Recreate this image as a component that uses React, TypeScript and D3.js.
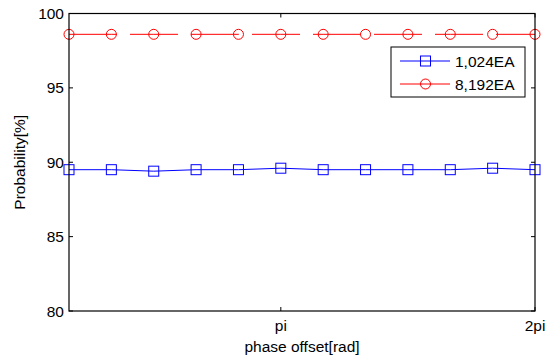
import React, { useEffect, useRef } from 'react';
import * as d3 from 'd3';

// phase offsets in units of pi (k * pi/6, k = 1..12)
const phase = [1, 2, 3, 4, 5, 6, 7, 8, 9, 10, 11, 12].map(k => (k * Math.PI) / 6);
const prob1024 = [89.5, 89.5, 89.4, 89.5, 89.5, 89.6, 89.5, 89.5, 89.5, 89.5, 89.6, 89.5];
const prob8192 = [98.6, 98.6, 98.6, 98.6, 98.6, 98.6, 98.6, 98.6, 98.6, 98.6, 98.6, 98.6];
const seriesNames = ['1,024EA', '8,192EA'];
const xTicks = [Math.PI, 2 * Math.PI];
const xTickLabels = ['pi', '2pi'];
const yTicks = [80, 85, 90, 95, 100];

const App = () => {
  const ref = useRef<SVGSVGElement>(null);

  useEffect(() => {
    const width = 552;
    const height = 358;
    const m = { left: 69, right: 535, top: 13.5, bottom: 311 };
    const font = 'Arial, "Liberation Sans", sans-serif';
    const fs = 15.5;

    const svg = d3.select(ref.current);
    svg.selectAll('*').remove();
    svg.attr('width', width).attr('height', height);

    svg.append('rect').attr('width', width).attr('height', height).attr('fill', '#fff');

    const x = d3.scaleLinear().domain([Math.PI / 6, 2 * Math.PI]).range([m.left, m.right]);
    const y = d3.scaleLinear().domain([80, 100]).range([m.bottom, m.top]);

    // ticks (inward, both sides)
    const tl = 4;
    yTicks.forEach(v => {
      svg.append('line').attr('x1', m.left).attr('x2', m.left + tl)
        .attr('y1', y(v)).attr('y2', y(v)).attr('stroke', '#000');
      svg.append('line').attr('x1', m.right).attr('x2', m.right - tl)
        .attr('y1', y(v)).attr('y2', y(v)).attr('stroke', '#000');
      svg.append('text').attr('x', m.left - 5).attr('y', y(v) + 5.5)
        .attr('text-anchor', 'end').attr('font-family', font).attr('font-size', fs)
        .text(v);
    });
    xTicks.forEach((v, i) => {
      svg.append('line').attr('x1', x(v)).attr('x2', x(v))
        .attr('y1', m.bottom).attr('y2', m.bottom - tl).attr('stroke', '#000');
      svg.append('line').attr('x1', x(v)).attr('x2', x(v))
        .attr('y1', m.top).attr('y2', m.top + tl).attr('stroke', '#000');
      svg.append('text').attr('x', x(v)).attr('y', m.bottom + 20)
        .attr('text-anchor', 'middle').attr('font-family', font).attr('font-size', fs)
        .text(xTickLabels[i]);
    });

    // axis labels
    svg.append('text').attr('x', (m.left + m.right) / 2).attr('y', 352)
      .attr('text-anchor', 'middle').attr('font-family', font).attr('font-size', fs)
      .text('phase offset[rad]');
    svg.append('text')
      .attr('transform', `translate(25,${(m.top + m.bottom) / 2}) rotate(-90)`)
      .attr('text-anchor', 'middle').attr('font-family', font).attr('font-size', fs)
      .text('Probability[%]');

    const line = d3.line<number>().x((_, i) => x(phase[i])).y(d => y(d));

    // 1,024EA - blue squares
    svg.append('path').datum(prob1024).attr('d', line)
      .attr('fill', 'none').attr('stroke', '#0000ff').attr('stroke-width', 1);
    svg.selectAll('.sq').data(prob1024).enter().append('rect')
      .attr('x', (_, i) => x(phase[i]) - 5).attr('y', d => y(d) - 5)
      .attr('width', 10).attr('height', 10)
      .attr('fill', 'none').attr('stroke', '#0000ff').attr('stroke-width', 1);

    // 8,192EA - red circles
    svg.append('path').datum(prob8192).attr('d', line)
      .attr('fill', 'none').attr('stroke', '#ff0000').attr('stroke-width', 1)
      .attr('stroke-dasharray', '48,13');
    svg.selectAll('.ci').data(prob8192).enter().append('circle')
      .attr('cx', (_, i) => x(phase[i])).attr('cy', d => y(d)).attr('r', 5)
      .attr('fill', 'none').attr('stroke', '#ff0000').attr('stroke-width', 1);

    // frame
    svg.append('rect').attr('x', m.left).attr('y', m.top)
      .attr('width', m.right - m.left).attr('height', m.bottom - m.top)
      .attr('fill', 'none').attr('stroke', '#000').attr('stroke-width', 1.2);

    // legend
    const lg = svg.append('g');
    lg.append('rect').attr('x', 391).attr('y', 47).attr('width', 134).attr('height', 50)
      .attr('fill', '#fff').attr('stroke', '#000').attr('stroke-width', 1);
    const colors = ['#0000ff', '#ff0000'];
    seriesNames.forEach((name, i) => {
      const yy = 61 + i * 23;
      lg.append('line').attr('x1', 400).attr('x2', 450).attr('y1', yy).attr('y2', yy)
        .attr('stroke', colors[i]);
      if (i === 0) {
        lg.append('rect').attr('x', 420.5).attr('y', yy - 5).attr('width', 10).attr('height', 10)
          .attr('fill', 'none').attr('stroke', colors[i]);
      } else {
        lg.append('circle').attr('cx', 425.5).attr('cy', yy).attr('r', 5)
          .attr('fill', 'none').attr('stroke', colors[i]);
      }
      lg.append('text').attr('x', 455).attr('y', yy + 5.5)
        .attr('font-family', font).attr('font-size', fs).text(name);
    });

    return () => {
      svg.selectAll('*').remove();
    };
  }, []);

  return <svg ref={ref} style={{ position: 'absolute', left: 0, top: 0 }} />;
};

export default App;
